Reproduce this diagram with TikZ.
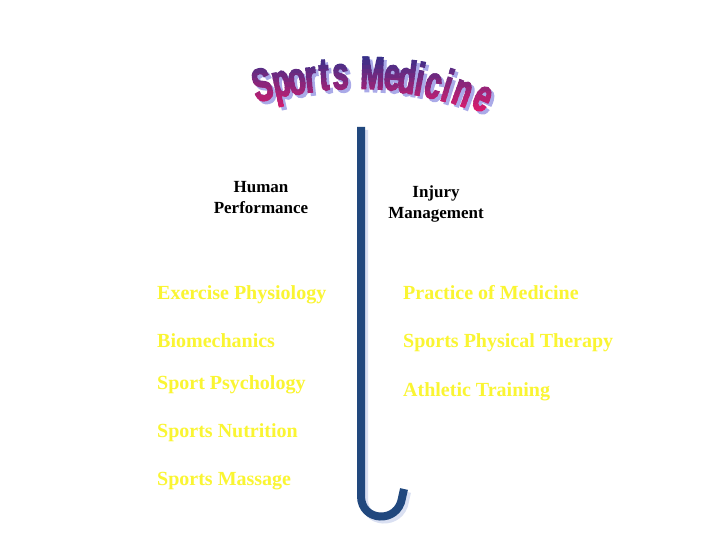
\documentclass[tikz,border=0pt]{standalone}
\usepackage{fontspec}
\setmainfont{Liberation Serif}
\newfontfamily\titlefont[FakeStretch=0.62,FakeBold=3]{Liberation Sans}
\definecolor{jblue}{RGB}{33,72,126}
\definecolor{jshadow}{RGB}{218,224,242}
\definecolor{wtop}{RGB}{45,50,140}
\definecolor{wbot}{RGB}{235,25,105}
\definecolor{wshadow}{RGB}{170,170,232}
\definecolor{itemyellow}{RGB}{250,245,50}
\usepackage{tikz}
\usetikzlibrary{positioning}

% one arched title letter: name, x, y, angle, glyph
\newcommand\wletter[5]{\node[wordart, rotate=#4] (#1) at (#2,#3) {#5};}
\newcommand\sportsletters{%
  \wletter{t1}{266}{100}{14}{S}
  \wletter{t2}{284}{96}{12}{p}
  \wletter{t3}{299}{94}{9}{o}
  \wletter{t4}{312}{92}{6}{r}
  \wletter{t5}{325}{90}{4}{t}
  \wletter{t6}{341}{89}{2}{s}
  \wletter{t7}{372}{89}{-2}{M}
  \wletter{t8}{391}{90}{-5}{e}
  \wletter{t9}{405}{93}{-8}{d}
  \wletter{t10}{417}{95}{-11}{i}
  \wletter{t11}{430}{98}{-14}{c}
  \wletter{t12}{443}{101}{-17}{i}
  \wletter{t13}{458}{105}{-20}{n}
  \wletter{t14}{477}{110}{-25}{e}%
}

\begin{document}
\begin{tikzpicture}[x=1pt, y=-1pt,
  wordart/.style={anchor=base, inner sep=0pt, font=\titlefont\bfseries\fontsize{46}{46}\selectfont},
  heading/.style={anchor=north, inner sep=0pt, align=center, font=\bfseries\fontsize{17}{21}\selectfont},
  item/.style={anchor=base west, inner sep=0pt, text=itemyellow, font=\bfseries\fontsize{20}{24}\selectfont},
  jbar/.style={line width=8pt, jblue}
]
  \fill[white] (0,0) rectangle (720,540);
  \useasboundingbox (0,0) rectangle (720,540);

  % title shadow, then the letters in colour bands
  \begin{scope}[shift={(3,3)}, text=wshadow]
    \sportsletters
  \end{scope}
  \foreach \k in {0,...,14} {
    \pgfmathtruncatemacro\pct{100*\k/14}
    \colorlet{bandcol}{wbot!\pct!wtop}
    \begin{scope}[text=bandcol]
      \clip (240,{52+4.4*\k}) rectangle (510,{57.2+4.4*\k});
      \sportsletters
    \end{scope}
  }

  % the hook
  \draw[jbar, jshadow] (364,130) -- (364,499) .. controls (364,525) and (401,527) .. (405,501) -- (407,492);
  \draw[jbar] (361,127) -- (361,496) .. controls (361,522) and (398,524) .. (402,498) -- (404,489);

  \node[heading] (hp) at (261,181) {Human\\Performance};
  \node[heading] (im) at (436,186) {Injury\\Management};

  \node[item] (ex) at (157,299) {Exercise Physiology};
  \node[item] (bio) at (157,347) {Biomechanics};
  \node[item] (psy) at (157,389) {Sport Psychology};
  \node[item] (nut) at (157,437) {Sports Nutrition};
  \node[item] (mas) at (157,485) {Sports Massage};

  \node[item] (pom) at (403,299) {Practice of Medicine};
  \node[item] (spt) at (403,347) {Sports Physical Therapy};
  \node[item] (atr) at (403,396) {Athletic Training};
\end{tikzpicture}
\end{document}
